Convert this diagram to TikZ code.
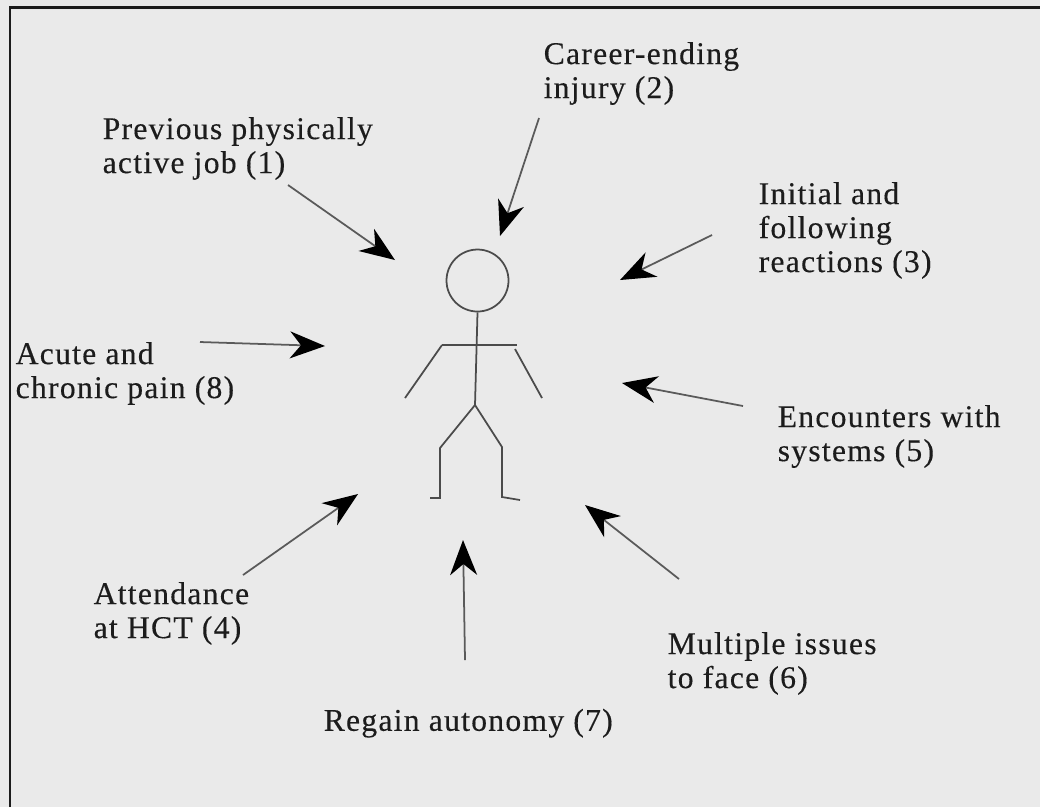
\documentclass[tikz,border=0pt]{standalone}
\usepackage{fontspec}
\setmainfont{Liberation Serif}[LetterSpace=4, FakeBold=0.3]
\usepackage{tikz}
\usetikzlibrary{arrows.meta}

\definecolor{paper}{RGB}{234,234,234}
\definecolor{ink}{RGB}{28,28,28}
\definecolor{shaft}{RGB}{90,90,90}
\definecolor{stick}{RGB}{75,75,75}

\tikzset{
  lbl/.style={anchor=north west, inner sep=0pt, align=left, text=ink,
    font=\fontsize{9}{9.67}\selectfont},
  pointer/.style={draw=shaft, line width=0.5pt,
    -{Stealth[length=3.5mm, width=2.7mm, inset=1.1mm, black]}},
  limb/.style={draw=stick, line width=0.5pt}
}

\begin{document}
\begin{tikzpicture}[y=-1cm]
\useasboundingbox (0,0) rectangle (10.4,8.07);
\fill[paper] (0,0) rectangle (10.4,8.07);
\draw[ink, line width=0.85pt] (0.10,8.07) -- (0.10,0.07) -- (10.4,0.07);

% labels
\node[lbl] (injury) at (5.43,0.414) {Career-ending\\injury (2)};
\node[lbl] (job) at (1.02,1.164) {Previous physically\\active job (1)};
\node[lbl] (react) at (7.58,1.814) {Initial and\\following\\reactions (3)};
\node[lbl] (pain) at (0.15,3.414) {Acute and\\chronic pain (8)};
\node[lbl] (systems) at (7.77,4.044) {Encounters with\\systems (5)};
\node[lbl] (hct) at (0.93,5.814) {Attendance\\at HCT (4)};
\node[lbl] (issues) at (6.67,6.314) {Multiple issues\\to face (6)};
\node[lbl] (autonomy) at (3.23,7.081) {Regain autonomy (7)};

% stick figure
\node[draw=stick, line width=0.5pt, circle, inner sep=0pt, minimum size=6.2mm] (head) at (4.775,2.805) {};
\coordinate (hip) at (4.75,4.05);
\draw[limb] (head.south) -- (hip);
\draw[limb] (4.42,3.45) -- (5.17,3.45);
\draw[limb] (4.42,3.45) -- (4.05,3.98);
\draw[limb] (5.15,3.49) -- (5.42,3.98);
\draw[limb] (hip) -- (4.40,4.48) -- (4.40,4.98) -- (4.30,4.98);
\draw[limb] (hip) -- (5.02,4.47) -- (5.02,4.97) -- (5.20,5.00);

% arrows towards the figure
\coordinate (job-s) at (2.88,1.85);  \coordinate (job-t) at (3.95,2.60);
\coordinate (injury-s) at (5.39,1.18); \coordinate (injury-t) at (5.00,2.36);
\coordinate (react-s) at (7.12,2.35); \coordinate (react-t) at (6.20,2.80);
\coordinate (pain-s) at (2.00,3.42); \coordinate (pain-t) at (3.25,3.46);
\coordinate (systems-s) at (7.43,4.06); \coordinate (systems-t) at (6.22,3.83);
\coordinate (hct-s) at (2.43,5.75); \coordinate (hct-t) at (3.58,4.94);
\coordinate (autonomy-s) at (4.65,6.60); \coordinate (autonomy-t) at (4.63,5.40);
\coordinate (issues-s) at (6.79,5.79); \coordinate (issues-t) at (5.85,5.05);
\draw[pointer] (job-s) -- (job-t);
\draw[pointer] (injury-s) -- (injury-t);
\draw[pointer] (react-s) -- (react-t);
\draw[pointer] (pain-s) -- (pain-t);
\draw[pointer] (systems-s) -- (systems-t);
\draw[pointer] (hct-s) -- (hct-t);
\draw[pointer] (autonomy-s) -- (autonomy-t);
\draw[pointer] (issues-s) -- (issues-t);
\end{tikzpicture}
\end{document}
